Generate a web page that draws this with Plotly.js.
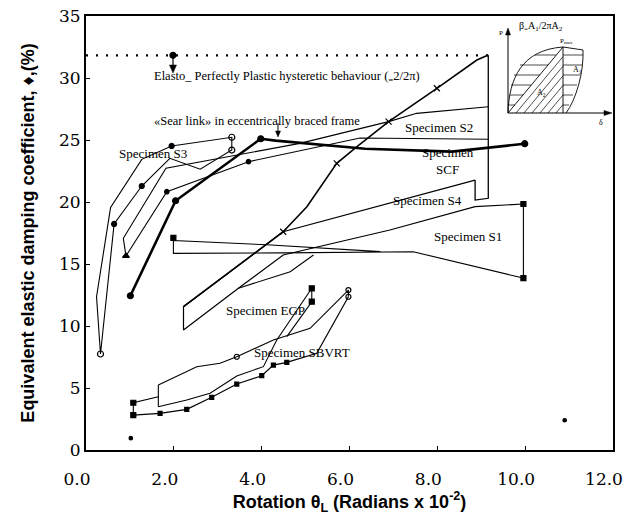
<!DOCTYPE html>
<html><head><meta charset="utf-8">
<script src="https://cdn.plot.ly/plotly-3.0.1.min.js"></script>
<style>html,body{margin:0;padding:0;background:#fff}#chart{width:641px;height:516px}</style>
</head><body><div id="chart"></div>
<script>
// ---------- data ----------
const xTickVals = [0, 2, 4, 6, 8, 10, 12];
const yTickVals = [0, 5, 10, 15, 20, 25, 30, 35];

// Elasto-perfectly plastic limit (1/pi)
const epX = [0, 9.16];
const epY = [31.83, 31.83];
const epMarkX = [1.98];
const epMarkY = [31.83];

// Specimen S3 loop
const s3X = [0.33, 0.24, 0.56, 1.27, 1.95, 3.32, 3.32, 2.60, 1.91, 1.27, 0.64, 0.33];
const s3Y = [7.74, 12.36, 19.57, 23.44, 24.52, 25.22, 24.19, 22.64, 23.52, 21.29, 18.23, 7.74];
const s3MkX = [0.64, 1.27, 1.95];
const s3MkY = [18.23, 21.29, 24.52];
const s3OpenX = [0.33, 3.32, 3.32];
const s3OpenY = [7.74, 25.22, 24.19];

// Specimen S2 band
const s2X = [9.16, 7.53, 6.89, 4.87, 1.82, 0.85, 0.91, 1.84, 3.70, 6.24, 9.16];
const s2Y = [27.68, 27.15, 26.48, 24.73, 22.72, 17.07, 15.65, 20.83, 23.25, 25.16, 25.06];
const s2MkX = [1.84, 3.70];
const s2MkY = [20.83, 23.25];
const s2TriX = [0.91];
const s2TriY = [15.65];

// Specimen SCF (thick)
const scfX = [1.01, 2.04, 3.98, 4.32, 6.36, 8.33, 9.99];
const scfY = [12.44, 20.1, 25.1, 24.95, 24.3, 24.06, 24.7];
const scfMkX = [1.01, 2.04, 3.98, 9.99];
const scfMkY = [12.44, 20.1, 25.1, 24.7];

// right closing line
const rcX = [9.16, 9.16, 8.86, 8.86];
const rcY = [31.83, 20.3, 20.16, 21.77];

// Shear link rising line
const slX = [2.22, 4.49, 5.03, 5.71, 6.17, 6.89, 7.99, 8.90, 9.16];
const slY = [11.56, 17.6, 19.62, 23.12, 24.46, 26.48, 29.17, 31.45, 31.85];
const slMkX = [4.49, 5.71, 6.89, 7.99];
const slMkY = [17.6, 23.12, 26.48, 29.17];

// Specimen S4 band
const s4X = [8.86, 6.92, 4.49, 2.22, 2.22, 3.47, 4.49, 6.92, 8.86, 9.96];
const s4Y = [21.77, 19.9, 17.6, 11.56, 9.68, 13.04, 15.73, 17.74, 19.62, 19.84];
const s4bX = [3.47, 4.65, 5.18];
const s4bY = [13.04, 14.38, 15.73];

// Specimen S1 band
const s1X = [6.70, 4.12, 1.99, 1.99, 1.99, 4.5, 6.70, 7.45, 9.96, 9.96];
const s1Y = [16.0, 16.55, 16.9, 17.1, 15.86, 15.9, 16.0, 15.99, 13.86, 19.84];
const s1MkX = [1.99, 9.96, 9.96];
const s1MkY = [17.1, 13.86, 19.84];

// Specimen EGP (small loop)
const egBoxX = [1.647, 1.077, 1.077];
const egBoxY = [4.30, 3.81, 2.82];
const egVX = [1.647, 1.647];
const egVY = [5.24, 3.49];
const egX = [1.647, 2.294, 2.825, 3.433, 4.039, 4.344, 5.141, 5.141, 4.572];
const egY = [3.49, 4.03, 4.57, 5.97, 6.72, 8.87, 13.04, 11.96, 9.14];
const egMkX = [1.077, 1.077, 5.141, 5.141];
const egMkY = [3.81, 2.82, 13.04, 11.96];

// Specimen SBVRT
const sbUX = [1.647, 2.522, 3.052, 3.433, 4.267, 5.103, 5.975, 5.975];
const sbUY = [5.24, 6.72, 6.99, 7.52, 8.87, 9.81, 12.90, 12.36];
const sbLX = [1.077, 1.686, 2.294, 2.863, 3.433, 4.002, 4.267, 4.572, 5.255, 5.975];
const sbLY = [2.82, 2.96, 3.28, 4.25, 5.32, 5.99, 6.85, 7.07, 7.80, 12.36];
const sbMkX = [1.686, 2.294, 2.863, 3.433, 4.002, 4.267, 4.572];
const sbMkY = [2.96, 3.28, 4.25, 5.32, 5.99, 6.85, 7.07];
const sbOpenX = [3.433, 5.975, 5.975];
const sbOpenY = [7.52, 12.90, 12.36];

// stray points
const dotX = [1.02, 10.9];
const dotY = [0.95, 2.4];

// ---------- traces ----------
const K = '#000';
function ln(x, y, w, extra) {
  return Object.assign({x: x, y: y, type: 'scatter', mode: 'lines', line: {color: K, width: w}, hoverinfo: 'skip', showlegend: false}, extra || {});
}
function mk(x, y, sym, size, extra) {
  return Object.assign({x: x, y: y, type: 'scatter', mode: 'markers', marker: {color: K, symbol: sym, size: size, line: {color: K, width: 1.2}}, hoverinfo: 'skip', showlegend: false}, extra || {});
}
const traces = [
  ln(epX, epY, 2.2, {line: {color: K, width: 2.2, dash: '2px,8px'}}),
  mk(epMarkX, epMarkY, 'circle', 6),
  ln(s3X, s3Y, 1.1), mk(s3MkX, s3MkY, 'circle', 5), mk(s3OpenX, s3OpenY, 'circle-open', 6),
  ln(s2X, s2Y, 1.1), mk(s2MkX, s2MkY, 'circle', 4.5), mk(s2TriX, s2TriY, 'triangle-up', 6),
  ln(scfX, scfY, 2.6), mk(scfMkX, scfMkY, 'circle', 6),
  ln(rcX, rcY, 1.3),
  ln(slX, slY, 1.6), mk(slMkX, slMkY, 'x-thin-open', 6),
  ln(s4X, s4Y, 1.2), ln(s4bX, s4bY, 1.1),
  ln(s1X, s1Y, 1.1), mk(s1MkX, s1MkY, 'square', 5),
  ln(egBoxX, egBoxY, 1.1), ln(egVX, egVY, 1.1), ln(egX, egY, 1.1), mk(egMkX, egMkY, 'square', 5),
  ln(sbUX, sbUY, 1.1), ln(sbLX, sbLY, 1.2), mk(sbMkX, sbMkY, 'square', 4), mk(sbOpenX, sbOpenY, 'circle-open', 5),
  mk(dotX, dotY, 'circle', 3.5)
];

// ---------- inset schematic and arrows (pixel positions -> paper) ----------
const L = 86, R = 613, T = 16, B = 450;
function X(p) { return (p - L) / (R - L); }
function Y(p) { return (B - p) / (B - T); }
function P(x, y) { return X(x).toFixed(4) + ',' + Y(y).toFixed(4); }
const shapes = [];
function seg(x0, y0, x1, y1, w) {
  shapes.push({type: 'line', xref: 'paper', yref: 'paper', x0: X(x0), y0: Y(y0), x1: X(x1), y1: Y(y1), line: {color: K, width: w || 0.8}});
}
function tri(a, b, c) {
  shapes.push({type: 'path', xref: 'paper', yref: 'paper', line: {color: K, width: 0.5}, fillcolor: K,
    path: 'M' + P(a[0], a[1]) + ' L' + P(b[0], b[1]) + ' L' + P(c[0], c[1]) + ' Z'});
}
// leaf outline
shapes.push({type: 'path', xref: 'paper', yref: 'paper', line: {color: K, width: 0.9},
  path: 'M' + P(508, 113) + ' C' + P(509, 78) + ' ' + P(522, 50) + ' ' + P(563, 47) +
        ' L' + P(583, 50) + ' C' + P(584, 72) + ' ' + P(576, 100) + ' ' + P(566, 113)});
seg(508, 113, 563, 47, 0.9);
seg(563, 47, 563, 113, 0.9);
// horizontal hatching
[[55, 535, 556, 583], [65, 520, 548, 582], [75, 514, 540, 580], [85, 511, 531, 577], [95, 509.5, 523, 573], [105, 508.5, 515, 569]]
  .forEach(function (h) { seg(h[1], h[0], h[2], h[0], 0.7); seg(563, h[0], h[3], h[0], 0.7); });
// diagonal hatching
[8, 16, 24, 32, 40, 48].forEach(function (d) { seg(508 + d, 113, 563, 113 - (55 - d) * 1.2, 0.7); });
// inset axes with arrowheads
seg(508, 113, 508, 33, 1);
seg(508, 113, 606, 113, 1);
tri([505.5, 35], [510.5, 35], [508, 28]);
tri([604, 110.5], [604, 115.5], [612, 113]);
// arrow under the plastic-limit marker
seg(173, 56, 173, 66, 1.2);
tri([169.5, 65], [176.5, 65], [173, 73]);
// arrow to shear-link line
seg(278, 123, 278, 131, 1);
tri([275.5, 131], [280.5, 131], [278, 137]);

// ---------- annotations ----------
const serif = 'Liberation Serif, Times New Roman, serif';
function txt(x, y, t, size, xanchor, ref) {
  const a = {x: x, y: y, text: t, showarrow: false, font: {family: serif, size: size, color: K}, xanchor: xanchor || 'center', yanchor: 'middle'};
  if (ref === 'paper') { a.xref = 'paper'; a.yref = 'paper'; }
  return a;
}
const annotations = [
  txt(1.50, 30.05, 'Elasto_ Perfectly Plastic hysteretic behaviour (<sub>=</sub>2/2\u03c0)', 12.5, 'left'),
  txt(1.50, 26.5, '\u00abSear link\u00bb in eccentrically braced frame', 12.5, 'left'),
  txt(1.53, 23.9, 'Specimen S3', 13),
  txt(8.04, 25.97, 'Specimen S2', 13),
  txt(8.25, 23.3, 'Specimen<br>SCF', 13),
  txt(7.77, 20.16, 'Specimen S4', 13),
  txt(8.70, 17.18, 'Specimen S1', 13),
  txt(4.08, 11.29, 'Specimen EGP', 13),
  txt(4.92, 7.9, 'Specimen SBVRT', 13),
  // inset text
  txt(X(541), Y(26), '\u03b2<sub>=</sub>A<sub>1</sub>/2\u03c0A<sub>2</sub>', 10, 'center', 'paper'),
  txt(X(566), Y(41), 'P<sub>max</sub>', 7, 'center', 'paper'),
  txt(X(577), Y(70), 'A<sub>1</sub>', 8, 'center', 'paper'),
  txt(X(541), Y(93), 'A<sub>2</sub>', 8, 'center', 'paper'),
  txt(X(501), Y(33), 'P', 7, 'center', 'paper'),
  txt(X(601), Y(122), '\u03b4', 8, 'center', 'paper')
];

const tickFont = {family: 'DejaVu Serif, serif', size: 17, color: K};
const titleFont = {family: 'Liberation Sans, Arial, sans-serif', size: 18, color: K, weight: 'bold'};
const layout = {
  width: 641, height: 516,
  margin: {l: L, r: 641 - R, t: T, b: 516 - B},
  paper_bgcolor: '#fff', plot_bgcolor: '#fff',
  showlegend: false,
  xaxis: {range: [0, 12], tickvals: xTickVals, tickformat: '.1f', ticks: 'inside', ticklen: 4, tickcolor: K,
          showline: true, linecolor: K, linewidth: 2, mirror: true, showgrid: false, zeroline: false,
          automargin: false,
          tickfont: tickFont, ticklabelstandoff: 13, ticklabelshift: -9,
          title: {text: '<b>Rotation \u03b8<sub>L</sub> (Radians x 10<sup>-2</sup>)</b>', font: titleFont, standoff: 0}},
  yaxis: {range: [0, 35], tickvals: yTickVals, ticks: 'inside', ticklen: 4, tickcolor: K,
          showline: true, linecolor: K, linewidth: 2, mirror: true, showgrid: false, zeroline: false,
          automargin: false,
          tickfont: tickFont,
          title: {text: '<b>Equivalent elastic damping coefficient, \u2666,(%)</b>', font: titleFont, standoff: 20}},
  shapes: shapes,
  annotations: annotations
};
Plotly.newPlot('chart', traces, layout, {staticPlot: true, displayModeBar: false});
</script>
</body></html>
